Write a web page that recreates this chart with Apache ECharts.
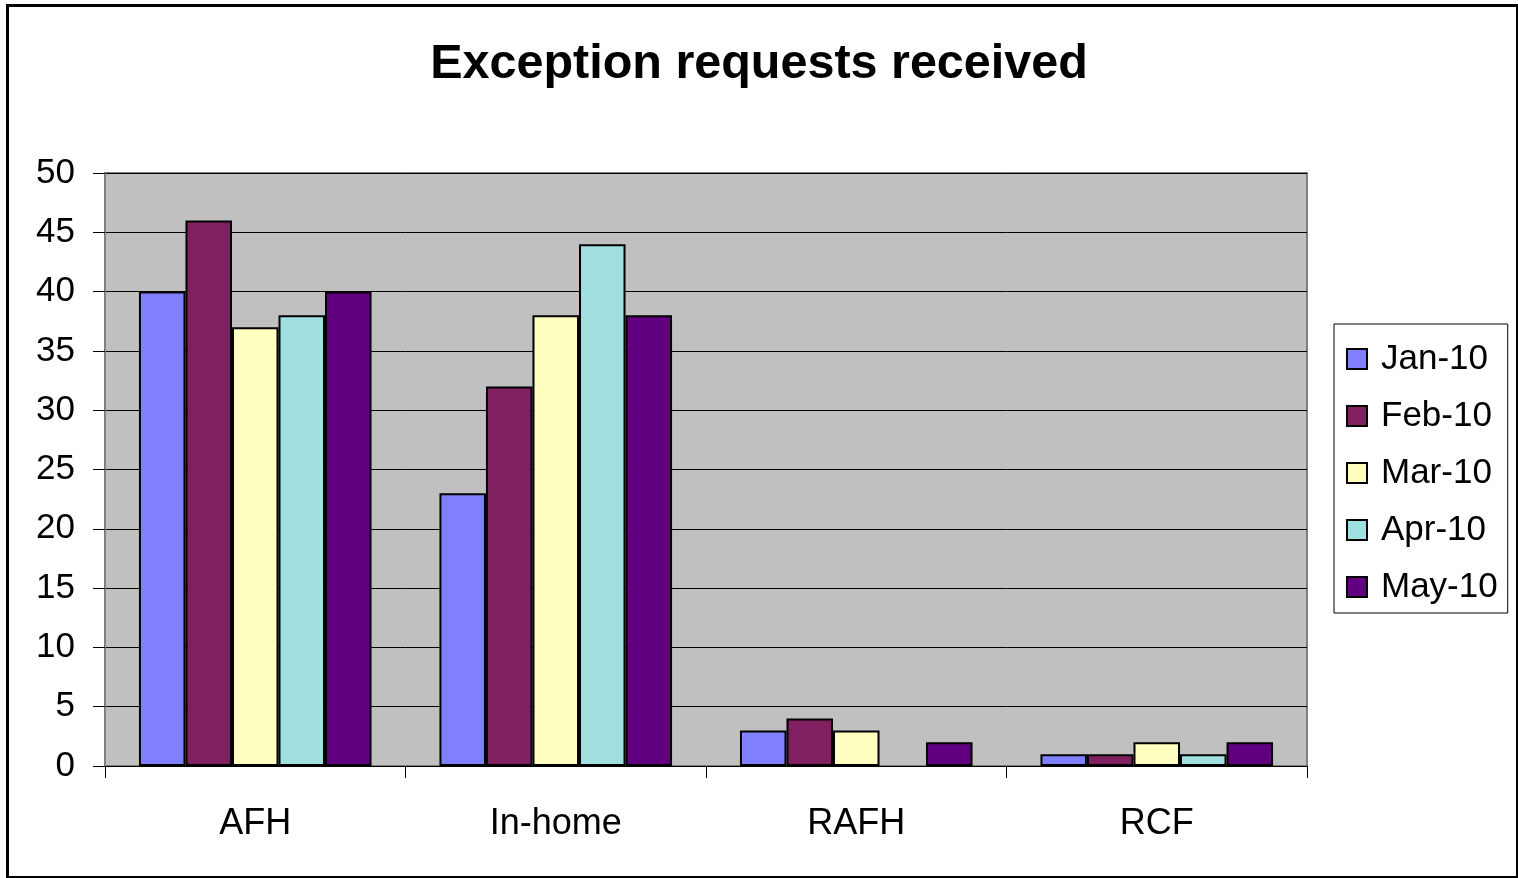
<!DOCTYPE html>
<html>
<head>
<meta charset="utf-8">
<script src="https://cdn.jsdelivr.net/npm/echarts@6/dist/echarts.min.js"></script>
<style>
  html, body { margin: 0; padding: 0; background: #fff; }
  #chart { width: 1518px; height: 878px; }
</style>
</head>
<body>
<div id="chart"></div>
<script>
  var categories = ['AFH', 'In-home', 'RAFH', 'RCF'];
  var months = ['Jan-10', 'Feb-10', 'Mar-10', 'Apr-10', 'May-10'];
  var jan10 = [40, 23, 3, 1];
  var feb10 = [46, 32, 4, 1];
  var mar10 = [37, 38, 3, 2];
  var apr10 = [38, 44, 0, 1];
  var may10 = [40, 38, 2, 2];
  var yTicks = [0, 5, 10, 15, 20, 25, 30, 35, 40, 45, 50];

  var colors = ['#8080FF', '#802060', '#FFFFC0', '#A0E0E0', '#600080'];
  var values = [jan10, feb10, mar10, apr10, may10];
  var font = 'Liberation Sans, Arial, sans-serif';

  var myChart = echarts.init(document.getElementById('chart'));

  var series = months.map(function (m, i) {
    return {
      name: m,
      type: 'bar',
      // excel draws nothing for a zero bar, so drop its border
      data: values[i].map(function (v) {
        return v === 0 ? { value: v, itemStyle: { borderWidth: 0 } } : v;
      }),
      barGap: '0%',
      barCategoryGap: '22.6%',
      itemStyle: {
        color: colors[i],
        borderColor: '#000',
        borderWidth: 2
      }
    };
  });

  var option = {
    backgroundColor: '#fff',
    animation: false,
    color: colors,
    title: {
      text: 'Exception requests received',
      left: 'center',
      top: 35,
      textStyle: {
        fontFamily: font,
        fontWeight: 'bold',
        fontSize: 48.5,
        color: '#000'
      }
    },
    graphic: [{
      type: 'rect',
      left: 5,
      top: 3,
      shape: { width: 1510, height: 872 },
      style: { fill: 'none', stroke: '#000', lineWidth: 3 },
      silent: true
    }],
    legend: {
      orient: 'vertical',
      left: 1334,
      top: 324,
      padding: [17, 10, 8, 12],
      itemWidth: 20,
      itemHeight: 20,
      itemGap: 21,
      icon: 'rect',
      borderColor: '#000',
      borderWidth: 1,
      backgroundColor: '#fff',
      textStyle: {
        fontFamily: font,
        fontSize: 35,
        lineHeight: 36,
        color: '#000',
        padding: [0, 0, 0, 9]
      },
      data: months
    },
    grid: {
      left: 105,
      top: 173,
      width: 1202,
      height: 593,
      show: true,
      backgroundColor: '#C0C0C0',
      borderColor: '#808080',
      borderWidth: 2
    },
    xAxis: {
      type: 'category',
      data: categories,
      axisLine: { show: true, lineStyle: { color: '#000', width: 1 } },
      axisTick: { show: true, length: 12, lineStyle: { color: '#000' } },
      axisLabel: {
        margin: 40,
        fontFamily: font,
        fontSize: 36,
        color: '#000'
      }
    },
    yAxis: {
      type: 'value',
      min: yTicks[0],
      max: yTicks[yTicks.length - 1],
      interval: 5,
      axisLine: { show: true, lineStyle: { color: '#808080', width: 2 } },
      axisTick: { show: true, length: 12, lineStyle: { color: '#000' } },
      splitLine: { show: true, lineStyle: { color: '#000', width: 1 } },
      axisLabel: {
        margin: 30,
        fontFamily: font,
        fontSize: 35,
        color: '#000'
      }
    },
    series: series
  };
  myChart.setOption(option, true);
</script>
</body>
</html>
